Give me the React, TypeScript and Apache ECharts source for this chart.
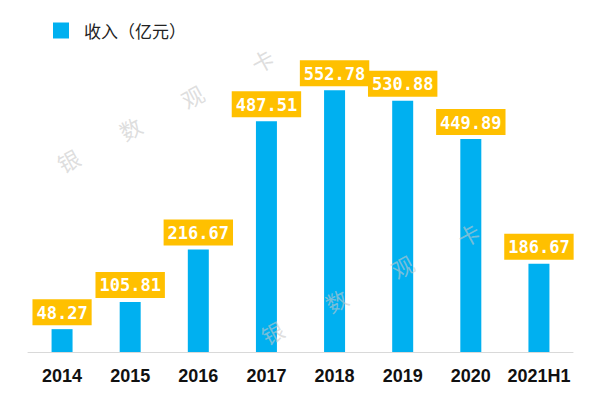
import React, { useEffect, useRef } from "react";
import * as echarts from "echarts";

const categories = ["2014", "2015", "2016", "2017", "2018", "2019", "2020", "2021H1"];
const revenue = [48.27, 105.81, 216.67, 487.51, 552.78, 530.88, 449.89, 186.67];
const seriesName = "收入（亿元）";
const watermarkChars = ["银", "数", "观", "卡"];

export default function App() {
  const ref = useRef<HTMLDivElement>(null);
  useEffect(() => {
    if (!ref.current) return;
    const chart = echarts.init(ref.current, undefined, { renderer: "svg" });
    const wmPositions = [
      [68, 160], [130, 128], [192, 96], [262, 60],
      [272, 332], [336, 300], [402, 266], [468, 234],
    ];
    const graphics = wmPositions.map((p, i) => ({
      type: "text",
      x: p[0],
      y: p[1],
      rotation: 0.5,
      z: 100,
      style: {
        text: watermarkChars[i % 4],
        fill: "rgba(200,200,200,0.6)",
        font: "22px 'Noto Sans CJK SC'",
        align: "center",
        verticalAlign: "middle",
      },
    }));
    chart.setOption({
      animation: false,
      grid: { left: 28, right: 16, top: 68, bottom: 47 },
      legend: {
        left: 48,
        top: 17,
        itemWidth: 16,
        itemHeight: 16,
        icon: "rect",
        data: [seriesName],
        textStyle: {
          fontSize: 17,
          color: "#222",
          fontFamily: "'Noto Sans CJK SC'",
          padding: [0, 0, 0, 10],
        },
      },
      xAxis: {
        type: "category",
        data: categories,
        axisLine: { lineStyle: { color: "#d9d9d9", width: 1 } },
        axisTick: { show: false },
        axisLabel: {
          interval: 0,
          margin: 15,
          fontSize: 18,
          fontWeight: "bold",
          color: "#111",
          fontFamily: "'Liberation Sans'",
        },
      },
      yAxis: { type: "value", min: 0, max: 600, show: false, splitLine: { show: false } },
      series: [
        {
          name: seriesName,
          type: "bar",
          data: revenue,
          barWidth: 21,
          itemStyle: { color: "#00B0F0" },
          label: {
            show: true,
            position: "top",
            distance: 4,
            backgroundColor: "#FFC000",
            color: "#fff",
            fontSize: 17,
            fontWeight: "bold",
            fontFamily: "'DejaVu Sans Mono'",
            padding: [5, 4, 4, 4],
            formatter: (p: any) => p.value.toFixed(2),
          },
        },
      ],
      graphic: graphics,
    });
    return () => chart.dispose();
  }, []);
  return <div ref={ref} style={{ width: 589, height: 399, position: "absolute", left: 0, top: 0 }} />;
}
